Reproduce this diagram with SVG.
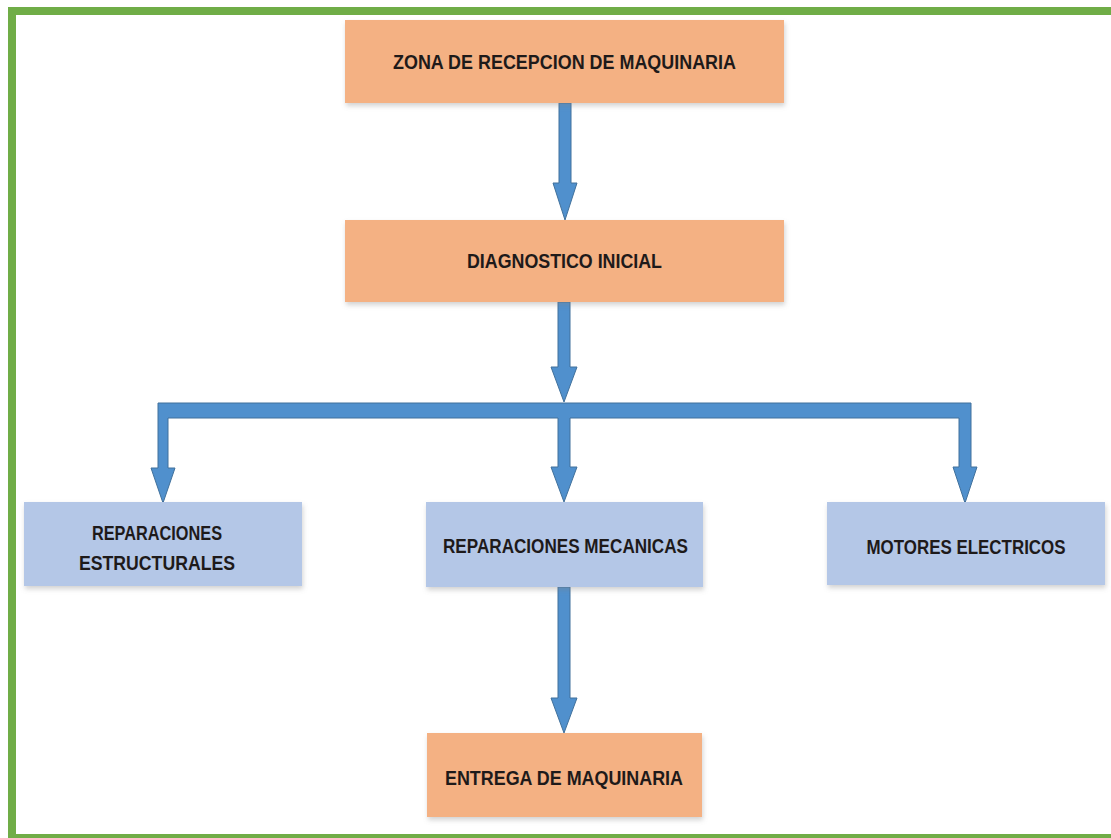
<svg xmlns="http://www.w3.org/2000/svg" width="1111" height="838" viewBox="0 0 1111 838">
<defs>
<filter id="sh" x="-5%" y="-10%" width="110%" height="130%">
<feDropShadow dx="1" dy="3" stdDeviation="2.5" flood-color="#7f7f7f" flood-opacity="0.35"/>
</filter>
<style>
.org{fill:#F4B183;filter:url(#sh)}
.blu{fill:#B4C7E7;filter:url(#sh)}
.lbl{font-family:"Liberation Sans Narrow","Liberation Sans",Arial,sans-serif;font-weight:bold;font-size:21px;fill:#1E1A1A;text-anchor:middle}
.arr{fill:#5090CD;stroke:#41719C;stroke-width:1;stroke-linejoin:miter}
.frame{fill:#70AD47}
</style>
</defs>
<rect x="0" y="0" width="1111" height="838" fill="#FFFFFF"/>
<g id="frame">
<rect class="frame" x="8" y="7" width="1103" height="8"/>
<rect class="frame" x="8" y="7" width="8" height="831"/>
<rect class="frame" x="8" y="834" width="1103" height="4"/>
</g>
<g id="connectors">
<polygon class="arr" points="559,103 571,103 571,183 577,183 565,220 553,183 559,183"/>
<polygon class="arr" points="558,302 570,302 570,367 577,367 564,402 551,367 558,367"/>
<polygon class="arr" points="158,403 971,403 971,467 977,467 965,503 953,467 959,467 959,418 570,418 570,467 577,467 564,502 551,467 558,467 558,418 168,418 168,468 175,468 163,503 151,468 158,468"/>
<polygon class="arr" points="558,587 570,587 570,698 577,698 564,733 551,698 558,698"/>
</g>
<g id="n-recepcion">
<rect class="org" x="345" y="20" width="439" height="83"/>
<text class="lbl" x="564.5" y="68.5" textLength="343" lengthAdjust="spacingAndGlyphs">ZONA DE RECEPCION DE MAQUINARIA</text>
</g>
<g id="n-diagnostico">
<rect class="org" x="345" y="220" width="439" height="82"/>
<text class="lbl" x="564.5" y="267.5" textLength="195" lengthAdjust="spacingAndGlyphs">DIAGNOSTICO INICIAL</text>
</g>
<g id="n-estructurales">
<rect class="blu" x="24" y="502" width="278" height="84"/>
<text class="lbl" x="157" y="539.5" textLength="130" lengthAdjust="spacingAndGlyphs">REPARACIONES</text>
<text class="lbl" x="157" y="569.5" textLength="156" lengthAdjust="spacingAndGlyphs">ESTRUCTURALES</text>
</g>
<g id="n-mecanicas">
<rect class="blu" x="426" y="502" width="277" height="85"/>
<text class="lbl" x="565.5" y="552.5" textLength="245" lengthAdjust="spacingAndGlyphs">REPARACIONES MECANICAS</text>
</g>
<g id="n-motores">
<rect class="blu" x="827" y="502" width="278" height="83"/>
<text class="lbl" x="966" y="553.5" textLength="199" lengthAdjust="spacingAndGlyphs">MOTORES ELECTRICOS</text>
</g>
<g id="n-entrega">
<rect class="org" x="427" y="733" width="275" height="84"/>
<text class="lbl" x="564" y="784.5" textLength="238" lengthAdjust="spacingAndGlyphs">ENTREGA DE MAQUINARIA</text>
</g>
</svg>
